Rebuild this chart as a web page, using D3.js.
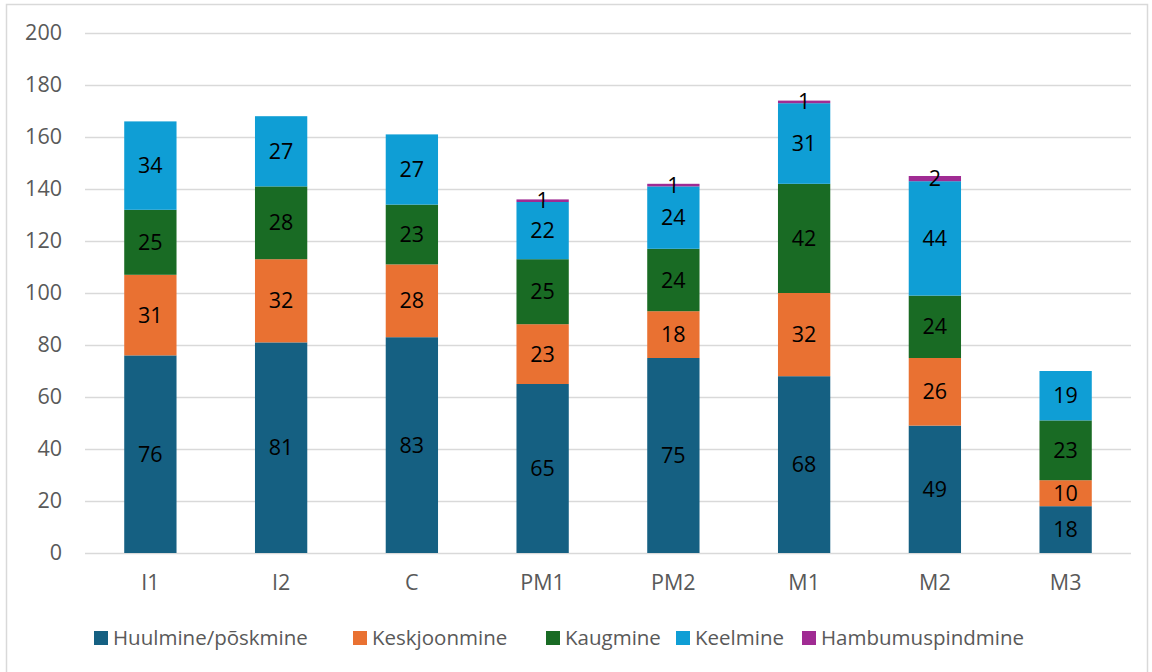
<!DOCTYPE html>
<html>
<head>
<meta charset="utf-8">
<script src="https://cdn.jsdelivr.net/npm/d3@7"></script>
<style>
  html, body { margin: 0; padding: 0; background: #fff; }
  svg { display: block; font-family: "Open Sans", "Noto Sans", sans-serif; }
</style>
</head>
<body>
<svg id="chart" width="1152" height="672"></svg>
<script>
// Tooth categories
const categories = ["I1", "I2", "C", "PM1", "PM2", "M1", "M2", "M3"];
// Series names (stack order, bottom to top)
const seriesNames = ["Huulmine/põskmine", "Keskjoonmine", "Kaugmine", "Keelmine", "Hambumuspindmine"];
// Series values per category
const huulmine  = [76, 81, 83, 65, 75, 68, 49, 18];
const keskjoon  = [31, 32, 28, 23, 18, 32, 26, 10];
const kaugmine  = [25, 28, 23, 25, 24, 42, 24, 23];
const keelmine  = [34, 27, 27, 22, 24, 31, 44, 19];
const hambumus  = [0, 0, 0, 1, 1, 1, 2, 0];
const yTicks = [0, 20, 40, 60, 80, 100, 120, 140, 160, 180, 200];
const colors = ["#156082", "#E97132", "#196B24", "#0F9ED5", "#A02B93"];

const seriesValues = [huulmine, keskjoon, kaugmine, keelmine, hambumus];
const rows = categories.map((c, i) => {
  const r = { cat: c };
  seriesNames.forEach((s, k) => r[s] = seriesValues[k][i]);
  return r;
});

const svg = d3.select("#chart");
const W = 1152, H = 672;
const m = { left: 85, right: 21, top: 33, bottom: 119 };
const FS = 21.5;

// Chart frame
svg.append("rect")
  .attr("x", 6.5).attr("y", 4.5)
  .attr("width", 1141).attr("height", 680)
  .attr("fill", "#fff").attr("stroke", "#d9d9d9").attr("stroke-width", 1.5);

const x = d3.scaleBand().domain(categories)
  .range([m.left, W - m.right]).paddingInner(0.6).paddingOuter(0.3);
const y = d3.scaleLinear().domain([0, 200]).range([H - m.bottom, m.top]);

// Gridlines
svg.append("g").selectAll("line").data(yTicks).join("line")
  .attr("x1", m.left).attr("x2", W - m.right)
  .attr("y1", d => Math.round(y(d)) + 0.5).attr("y2", d => Math.round(y(d)) + 0.5)
  .attr("stroke", "#d9d9d9").attr("stroke-width", 1.5);

// Y axis labels
const yAxis = d3.axisLeft(y).tickValues(yTicks).tickSize(0).tickPadding(0);
const ya = svg.append("g").attr("transform", `translate(${m.left - 23},0)`).call(yAxis);
ya.select(".domain").remove();
ya.selectAll("text").attr("fill", "#595959").attr("font-size", FS)
  .attr("font-family", "'Open Sans', sans-serif");

// X axis labels
const xAxis = d3.axisBottom(x).tickSize(0).tickPadding(0);
const xa = svg.append("g").attr("transform", `translate(0,${H - m.bottom + 22})`).call(xAxis);
xa.select(".domain").remove();
xa.selectAll("text").attr("fill", "#595959").attr("font-size", FS)
  .attr("font-family", "'Open Sans', sans-serif");

// Stacked bars
const stack = d3.stack().keys(seriesNames)(rows);
const layers = svg.append("g").selectAll("g").data(stack).join("g")
  .attr("fill", (d, i) => colors[i]);
layers.selectAll("rect").data(d => d.filter(p => p[1] - p[0] > 0)).join("rect")
  .attr("x", d => x(d.data.cat))
  .attr("width", x.bandwidth())
  .attr("y", d => y(d[1]))
  .attr("height", d => y(d[0]) - y(d[1]));

// Data labels
const labels = svg.append("g").attr("font-size", FS).attr("fill", "#000")
  .attr("text-anchor", "middle").attr("font-family", "'Open Sans', sans-serif");
stack.forEach(layer => {
  layer.forEach(p => {
    const v = p[1] - p[0];
    if (v <= 0) return;
    labels.append("text")
      .attr("x", x(p.data.cat) + x.bandwidth() / 2)
      .attr("y", (y(p[0]) + y(p[1])) / 2)
      .attr("dy", "0.35em")
      .text(v);
  });
});

// Legend
const legendX = [94, 353, 546, 676, 802];
const lg = svg.append("g").attr("transform", `translate(0,638)`);
seriesNames.forEach((s, i) => {
  const g = lg.append("g").attr("transform", `translate(${legendX[i]},0)`);
  g.append("rect").attr("x", 0).attr("y", -7).attr("width", 14).attr("height", 14).attr("fill", colors[i]);
  g.append("text").attr("x", 19).attr("y", 0).attr("dy", "0.35em")
    .attr("font-size", 20.5).attr("fill", "#595959").text(s);
});
</script>
</body>
</html>
